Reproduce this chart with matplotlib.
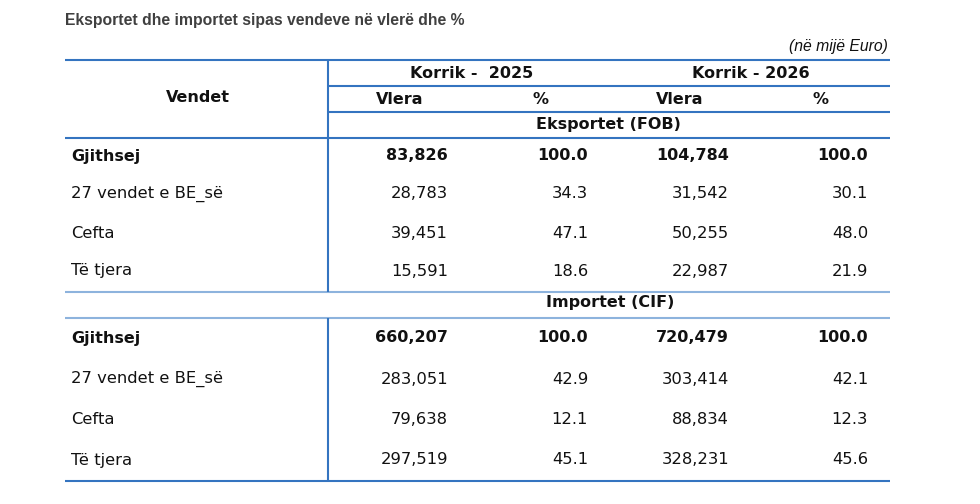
import matplotlib.pyplot as plt

plt.rcParams['font.family'] = ['DejaVu Sans']

# table data
title = 'Eksportet dhe importet sipas vendeve në vlerë dhe %'
unit_note = '(në mijë Euro)'
periods = ['Korrik -  2025', 'Korrik - 2026']
sub_headers = ['Vlera', '%', 'Vlera', '%']
sections = ['Eksportet (FOB)', 'Importet (CIF)']
rows = ['Gjithsej', '27 vendet e BE_së', 'Cefta', 'Të tjera']

exp_2025_val = [83826, 28783, 39451, 15591]
exp_2025_pct = [100.0, 34.3, 47.1, 18.6]
exp_2026_val = [104784, 31542, 50255, 22987]
exp_2026_pct = [100.0, 30.1, 48.0, 21.9]

imp_2025_val = [660207, 283051, 79638, 297519]
imp_2025_pct = [100.0, 42.9, 12.1, 45.1]
imp_2026_val = [720479, 303414, 88834, 328231]
imp_2026_pct = [100.0, 42.1, 12.3, 45.6]

# layout in pixels
W, H = 980, 504
fig = plt.figure(figsize=(W / 100, H / 100), dpi=100)
ax = fig.add_axes([0, 0, 1, 1])
ax.set_xlim(0, W)
ax.set_ylim(H, 0)
ax.axis('off')

left, right, divx = 65, 890, 328
line_col = '#3474c0'
light_col = '#8db3dd'
txt = '#111111'
fs = 11.5
fs_reg = 11.8

def hline(y, x0=left, x1=right, c=line_col, lw=1.5):
    ax.plot([x0, x1], [y, y], color=c, lw=lw, solid_capstyle='butt')

def vline(x, y0, y1):
    ax.plot([x, x], [y0, y1], color=line_col, lw=1.5, solid_capstyle='butt')

ax.text(left, 20, title, fontsize=11.3, fontweight='bold', color='#404040',
        va='center', family='Liberation Sans')
ax.text(888, 47, unit_note, fontsize=11.3, style='italic', color=txt,
        ha='right', va='center', family='Liberation Sans')

# header
hline(60)
hline(86, divx, right)
hline(112, divx, right)
hline(138)
hline(292, c=light_col)
hline(318, c=light_col)
hline(481)
vline(divx, 60, 292)
vline(divx, 318, 481)

ax.text(198, 97, 'Vendet', fontsize=fs, fontweight='bold', ha='center', va='center', color=txt)
ax.text(472, 74, periods[0], fontsize=fs, fontweight='bold', ha='center', va='center', color=txt)
ax.text(751, 74, periods[1], fontsize=fs, fontweight='bold', ha='center', va='center', color=txt)
for x, s in zip([400, 540, 680, 820], sub_headers):
    ax.text(x, 100, s, fontsize=fs, fontweight='bold', ha='center', va='center', color=txt)
ax.text(608, 125, sections[0], fontsize=fs, fontweight='bold', ha='center', va='center', color=txt)
ax.text(610, 302, sections[1], fontsize=fs, fontweight='bold', ha='center', va='center', color=txt)

col_right = [448, 588, 729, 868]

def draw_block(ys, cols):
    for i, y in enumerate(ys):
        fw = 'bold' if i == 0 else 'normal'
        size = fs if i == 0 else fs_reg
        ax.text(left + 6, y, rows[i], fontsize=size, fontweight=fw, ha='left', va='center', color=txt)
        for j, (x, col) in enumerate(zip(col_right, cols)):
            v = col[i]
            s = f'{v:,.0f}' if j % 2 == 0 else f'{v:.1f}'
            ax.text(x, y, s, fontsize=size, fontweight=fw, ha='right', va='center', color=txt)

draw_block([156, 194, 233, 271], [exp_2025_val, exp_2025_pct, exp_2026_val, exp_2026_pct])
draw_block([338, 379, 419, 460], [imp_2025_val, imp_2025_pct, imp_2026_val, imp_2026_pct])

fig.savefig('out.png', dpi=100, facecolor='white')
